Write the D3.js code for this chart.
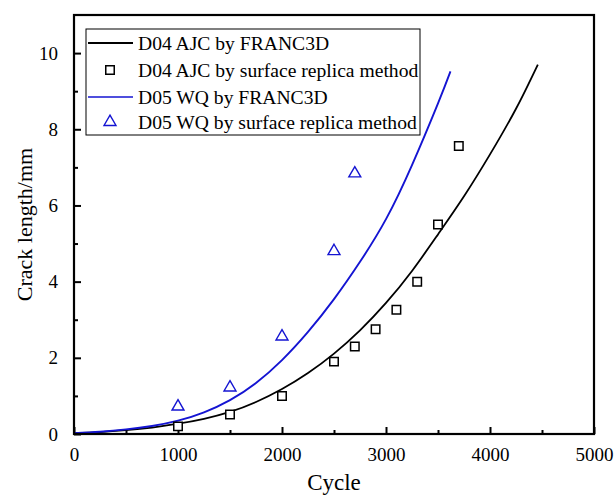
<!DOCTYPE html>
<html>
<head>
<meta charset="utf-8">
<script src="https://cdn.jsdelivr.net/npm/d3@7"></script>
<style>
  body { margin: 0; background: #fff; }
  text { font-family: "Liberation Serif", "Times New Roman", serif; fill: #000; }
</style>
</head>
<body>
<svg id="chart" width="616" height="498"></svg>
<script>
// FRANC3D simulated curves (cycle, crack length mm)
const d04Cycle = [0, 250, 500, 750, 1000, 1250, 1500, 1750, 2000, 2250, 2500, 2750, 3000, 3250, 3500, 3750, 4000, 4250, 4460];
const d04Len   = [0.02, 0.05, 0.1, 0.17, 0.27, 0.4, 0.58, 0.84, 1.18, 1.6, 2.11, 2.72, 3.44, 4.28, 5.24, 6.24, 7.34, 8.54, 9.7];
const d05Cycle = [0, 250, 500, 750, 1000, 1250, 1500, 1750, 2000, 2250, 2500, 2750, 3000, 3250, 3500, 3620];
const d05Len   = [0.02, 0.06, 0.12, 0.21, 0.35, 0.57, 0.89, 1.34, 1.94, 2.68, 3.54, 4.52, 5.64, 7.06, 8.68, 9.52];

// surface replica measurements
const d04ExpCycle = [1000, 1500, 2000, 2500, 2700, 2900, 3100, 3300, 3500, 3700];
const d04ExpLen   = [0.2, 0.51, 1.0, 1.9, 2.3, 2.75, 3.26, 4.0, 5.5, 7.56];
const d05ExpCycle = [1000, 1500, 2000, 2500, 2700];
const d05ExpLen   = [0.72, 1.22, 2.56, 4.8, 6.84];

const xTicks = [0, 1000, 2000, 3000, 4000, 5000];
const yTicks = [0, 2, 4, 6, 8, 10];
const legendLabels = ["D04 AJC by FRANC3D", "D04 AJC by surface replica method",
                      "D05 WQ by FRANC3D", "D05 WQ by surface replica method"];

const BLUE = "#1414d2";

var svg = d3.select("#chart"),
    margin = {top: 15, right: 22, bottom: 64, left: 74},
    width = 616 - margin.left - margin.right,
    height = 498 - margin.top - margin.bottom;

var x = d3.scaleLinear().domain([0, 5000]).range([0, width]);
var y = d3.scaleLinear().domain([0, 11]).range([height, 0]);

var g = svg.append("g").attr("transform", "translate(" + margin.left + "," + margin.top + ")");

// minor ticks (inward)
g.append("g")
  .attr("transform", "translate(0," + height + ")")
  .call(d3.axisBottom(x).tickValues(d3.range(500, 5000, 1000)).tickSize(-4).tickFormat(""))
  .call(a => a.select(".domain").remove())
  .selectAll("line").attr("stroke-width", 2);
g.append("g")
  .call(d3.axisLeft(y).tickValues(d3.range(1, 11, 2)).tickSize(-4).tickFormat(""))
  .call(a => a.select(".domain").remove())
  .selectAll("line").attr("stroke-width", 2);

// major ticks
var xAxis = g.append("g")
  .attr("transform", "translate(0," + height + ")")
  .call(d3.axisBottom(x).tickValues(xTicks).tickSize(-7).tickPadding(14).tickFormat(d3.format("d")));
xAxis.select(".domain").remove();
xAxis.selectAll("line").attr("stroke-width", 2);
xAxis.selectAll("text").attr("font-size", 19).attr("font-family", "Liberation Serif");

var yAxis = g.append("g")
  .call(d3.axisLeft(y).tickValues(yTicks).tickSize(-7).tickPadding(16).tickFormat(d3.format("d")));
yAxis.select(".domain").remove();
yAxis.selectAll("line").attr("stroke-width", 2);
yAxis.selectAll("text").attr("font-size", 19).attr("font-family", "Liberation Serif");

// clip for curves
svg.append("clipPath").attr("id", "clip")
  .append("rect").attr("width", width).attr("height", height);

var line = d3.line()
  .x(d => x(d[0]))
  .y(d => y(d[1]))
  .curve(d3.curveNatural);

g.append("path")
  .datum(d04Cycle.map((c, i) => [c, d04Len[i]]))
  .attr("clip-path", "url(#clip)")
  .attr("fill", "none").attr("stroke", "#000").attr("stroke-width", 1.8)
  .attr("d", line);

g.append("path")
  .datum(d05Cycle.map((c, i) => [c, d05Len[i]]))
  .attr("clip-path", "url(#clip)")
  .attr("fill", "none").attr("stroke", BLUE).attr("stroke-width", 1.9)
  .attr("d", line);

var square = d3.symbol().type(d3.symbolSquare).size(72);
var triangle = d3.symbol().type(d3.symbolTriangle).size(62);

g.selectAll(".sq")
  .data(d04ExpCycle.map((c, i) => [c, d04ExpLen[i]]))
  .enter().append("path")
  .attr("class", "sq")
  .attr("d", square)
  .attr("transform", d => "translate(" + x(d[0]) + "," + y(d[1]) + ")")
  .attr("fill", "#fff").attr("stroke", "#000").attr("stroke-width", 1.5);

g.selectAll(".tri")
  .data(d05ExpCycle.map((c, i) => [c, d05ExpLen[i]]))
  .enter().append("path")
  .attr("class", "tri")
  .attr("d", triangle)
  .attr("transform", d => "translate(" + x(d[0]) + "," + y(d[1]) + ")")
  .attr("fill", "none").attr("stroke", BLUE).attr("stroke-width", 1.4);

// frame
g.append("rect")
  .attr("width", width).attr("height", height)
  .attr("fill", "none").attr("stroke", "#000").attr("stroke-width", 2.2);

// legend
var legend = svg.append("g").attr("transform", "translate(86,29)");
legend.append("rect")
  .attr("width", 334).attr("height", 106)
  .attr("fill", "#fff").attr("stroke", "#000").attr("stroke-width", 1);

const rowY = [14, 41, 68, 93];
legendLabels.forEach(function(lbl, i) {
  var ly = rowY[i];
  if (i === 0 || i === 2) {
    legend.append("line")
      .attr("x1", 2).attr("x2", 47).attr("y1", ly).attr("y2", ly)
      .attr("stroke", i === 0 ? "#000" : BLUE).attr("stroke-width", i === 0 ? 2 : 1.6);
  } else if (i === 1) {
    legend.append("path").attr("d", square)
      .attr("transform", "translate(24," + ly + ")")
      .attr("fill", "#fff").attr("stroke", "#000").attr("stroke-width", 1.5);
  } else {
    legend.append("path").attr("d", triangle)
      .attr("transform", "translate(24," + ly + ")")
      .attr("fill", "none").attr("stroke", BLUE).attr("stroke-width", 1.4);
  }
  legend.append("text")
    .attr("x", 52).attr("y", ly).attr("dy", "0.35em")
    .attr("font-size", 19.6)
    .text(lbl);
});

// axis titles
svg.append("text")
  .attr("x", margin.left + width / 2).attr("y", 490)
  .attr("text-anchor", "middle").attr("font-size", 23)
  .text("Cycle");

svg.append("text")
  .attr("transform", "translate(32," + (margin.top + height / 2) + ") rotate(-90)")
  .attr("text-anchor", "middle").attr("font-size", 22)
  .text("Crack length/mm");
</script>
</body>
</html>
